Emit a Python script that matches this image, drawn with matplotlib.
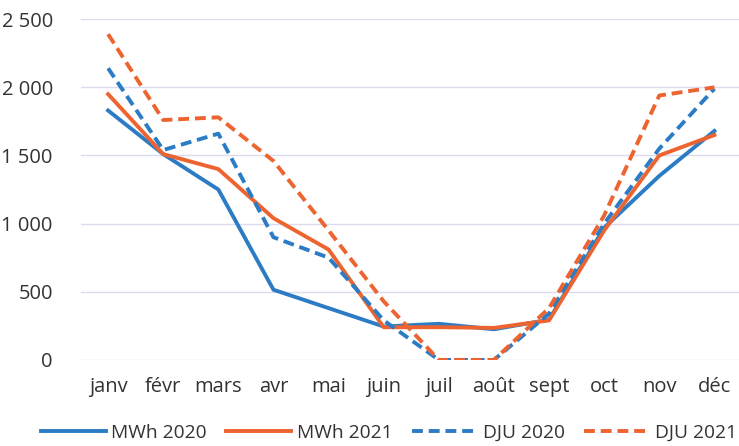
import matplotlib.pyplot as plt

# Données
mois = ['janv', 'févr', 'mars', 'avr', 'mai', 'juin', 'juil', 'août', 'sept', 'oct', 'nov', 'déc']
mwh_2020 = [1830, 1510, 1250, 515, 380, 245, 265, 225, 295, 970, 1350, 1680]
mwh_2021 = [1950, 1510, 1400, 1040, 810, 240, 240, 235, 290, 950, 1500, 1650]
dju_2020 = [2140, 1540, 1660, 900, 750, 290, 0, 0, 340, 1000, 1550, 1990]
dju_2021 = [2390, 1760, 1780, 1460, 950, 430, 0, 0, 380, 1060, 1940, 2000]
yticks = [0, 500, 1000, 1500, 2000, 2500]
ytick_labels = ['0', '500', '1 000', '1 500', '2 000', '2 500']

bleu = '#2b7cc4'
orange = '#ee6430'

plt.rcParams['font.family'] = ['Open Sans', 'DejaVu Sans']

fig = plt.figure(figsize=(7.39, 4.46), dpi=100)
ax = fig.add_axes([0.109, 0.193, 0.895, 0.764])

x = range(len(mois))
ax.plot(x, mwh_2020, color=bleu, lw=2.8, label='MWh 2020')
ax.plot(x, mwh_2021, color=orange, lw=2.8, label='MWh 2021')
ax.plot(x, dju_2020, color=bleu, lw=2.8, ls=(0, (2.8, 1.5)), label='DJU 2020')
ax.plot(x, dju_2021, color=orange, lw=2.8, ls=(0, (2.8, 1.5)), label='DJU 2021')

ax.set_xlim(-0.5, 11.5)
ax.set_ylim(0, 2500)
ax.set_xticks(list(x))
ax.set_xticklabels(mois)
ax.set_yticks(yticks)
ax.set_yticklabels(ytick_labels)
ax.tick_params(length=0, labelsize=14.5, colors='#333333')
ax.tick_params(axis='x', pad=12)
ax.tick_params(axis='y', pad=20)
ax.grid(axis='y', color='#dcdcf0', lw=1)
ax.set_axisbelow(True)
for s in ax.spines.values():
    s.set_visible(False)

fig.legend(loc='lower center', bbox_to_anchor=(0.526, -0.03), ncol=4, frameon=False,
           fontsize=13.8, handlelength=3.4, columnspacing=1.0, handletextpad=0.3,
           labelcolor='#333333')

fig.savefig('out.png', dpi=100)
